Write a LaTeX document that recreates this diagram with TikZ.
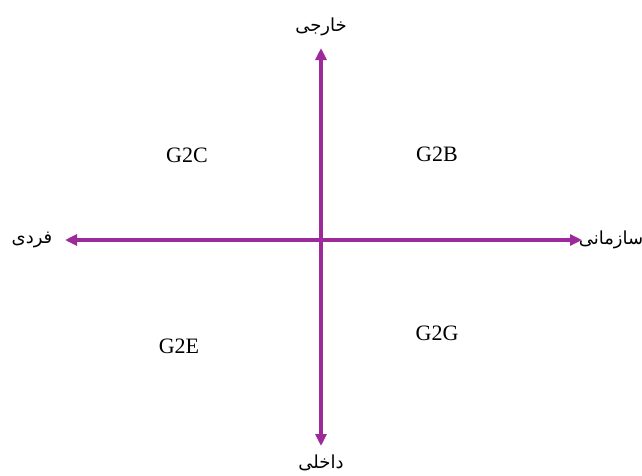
\documentclass[tikz,border=0pt]{standalone}
\usepackage{fontspec}
\setmainfont{Liberation Serif}
\newfontfamily\arabicfont[Script=Arabic]{DejaVu Sans}
\TeXXeTstate=1
\usepackage{xcolor}
\usepackage{tikz}
\usetikzlibrary{arrows.meta}
\definecolor{axispurple}{HTML}{9C2A9A}

\begin{document}
\begin{tikzpicture}[
    x=1pt, y=-1pt,
    axis/.style={{Triangle[length=12pt,width=11pt]}-{Triangle[length=12pt,width=11pt]},
                 line width=3.2pt, draw=axispurple},
    side/.style={font=\fontsize{18}{22}\selectfont\arabicfont, inner sep=0pt},
    quad/.style={font=\fontsize{22}{26}\selectfont, inner sep=0pt}
  ]
  \useasboundingbox (0,0) rectangle (642,475);

  \coordinate (top) at (321,48);
  \coordinate (bot) at (321,446);
  \coordinate (lft) at (65,240);
  \coordinate (rgt) at (582,240);

  \node[side] (outer) at (321,27)  {\beginR خارجی\endR};
  \node[side] (inner) at (321,463) {\beginR داخلی\endR};
  \node[side] (indiv) at (32,240)  {\beginR فردی\endR};
  \node[side] (organ) at (611,240) {\beginR سازمانی\endR};

  \draw[axis] (top) -- (bot);
  \draw[axis] (lft) -- (rgt);

  \node[quad] (g2c) at (187,155) {G2C};
  \node[quad] (g2b) at (437,154) {G2B};
  \node[quad] (g2e) at (179,346) {G2E};
  \node[quad] (g2g) at (437,333) {G2G};
\end{tikzpicture}
\end{document}
